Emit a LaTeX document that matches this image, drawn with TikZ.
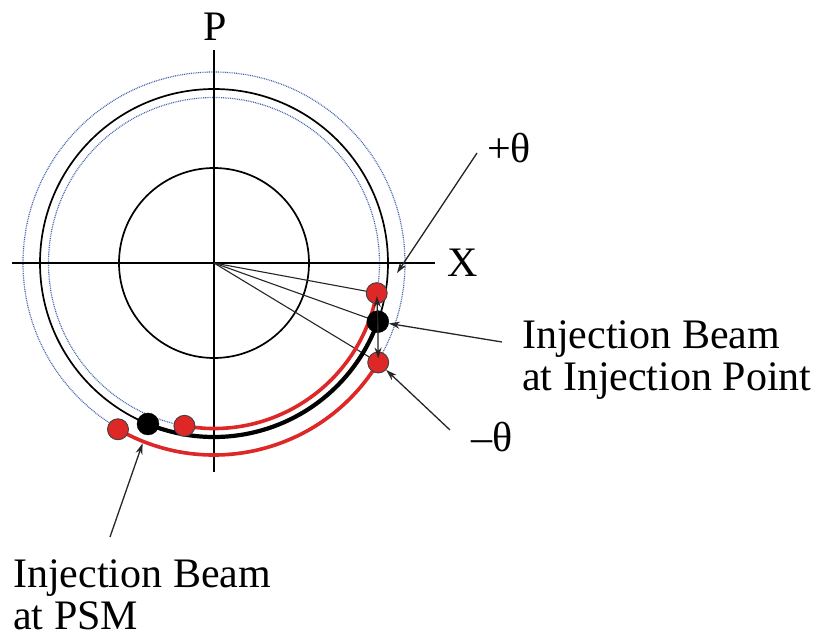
\documentclass[tikz,border=0pt]{standalone}
\usepackage{fontspec}
\setmainfont{Liberation Serif}
\usetikzlibrary{arrows.meta}
\definecolor{beamred}{RGB}{222,40,40}
\definecolor{dotblue}{RGB}{70,100,175}
\begin{document}
\begin{tikzpicture}[x=1pt,y=1pt,
  axisline/.style={line width=1.3pt,black},
  circline/.style={line width=1.7pt,black},
  rayline/.style={line width=1.1pt,black!85},
  bluedots/.style={line width=1.2pt,dotblue,dash pattern=on 0.9pt off 0.9pt},
  redarc/.style={line width=3.6pt,beamred},
  blackarc/.style={line width=4.2pt,black},
  reddot/.style={circle,minimum size=21pt,inner sep=0pt,fill=beamred,draw=black!75,line width=0.9pt},
  blackdot/.style={circle,minimum size=22pt,inner sep=0pt,fill=black,draw=black},
  arr/.style={line width=1.3pt,black!85,-{Stealth[length=11pt,width=7pt]}},
  lbl/.style={inner sep=0pt,font=\fontsize{42}{43}\selectfont},
  txt/.style={inner sep=0pt,align=left,font=\fontsize{42}{42}\selectfont}]
\useasboundingbox (-214,-374) rectangle (607,263);
% circles
\draw[bluedots] (0,0) circle[radius=191];
\draw[bluedots] (0,0) circle[radius=165.5];
\draw[circline] (0,0) circle[radius=174];
\draw[circline] (0,0) circle[radius=95];
% axes
\coordinate (O) at (0,0);
\coordinate (xl) at (-202,0);
\coordinate (xr) at (221,0);
\coordinate (pt) at (0,213);
\coordinate (pb) at (0,-209);
\draw[axisline] (xl) -- (xr);
\draw[axisline] (pb) -- (pt);
\node[lbl] (P) at (1,236) {P};
\node[lbl] (X) at (249,0) {X};
% dot positions
\coordinate (rtp) at (-10.5:165.5);
\coordinate (bdp) at (-19.7:174);
\coordinate (rbp) at (-31.2:192);
\coordinate (bpp) at (-112.3:174);
\coordinate (rip) at (-100.3:165.5);
\coordinate (rop) at (-120:192);
% rays
\draw[rayline] (O) -- (rtp);
\draw[rayline] (O) -- (bdp);
\draw[rayline] (O) -- (rbp);
% beam arcs
\draw[redarc] (rtp) arc[start angle=-10.5, end angle=-100.3, radius=165.5];
\draw[redarc] (rbp) arc[start angle=-31.2, end angle=-120, radius=192];
\draw[blackarc] (bdp) arc[start angle=-19.7, end angle=-112.3, radius=174];
% dots
\node[reddot] (rt) at (rtp) {};
\node[reddot] (rb) at (rbp) {};
\node[blackdot] (bd) at (bdp) {};
\node[reddot] (ri) at (rip) {};
\node[reddot] (ro) at (rop) {};
\node[blackdot] (bp) at (bpp) {};
% theta arrows between dots
\draw[arr,shorten >=3pt] (bd.center) -- (rt.center);
\draw[arr,shorten >=4pt] (bd.center) -- (rb.center);
% labels
\node[lbl] (plus) at (295,115) {+θ};
\node[lbl] (minus) at (278,-174) {–θ};
\node[txt,anchor=base west] (inj) at (308,-127) {Injection Beam\\at Injection Point};
\node[txt,anchor=base west] (psm) at (-201,-366) {Injection Beam\\at PSM};
% label arrows
\coordinate (plusstart) at (263,110);
\coordinate (plusend) at (183,-10);
\draw[arr] (plusstart) -- (plusend);
\coordinate (injstart) at (288,-79);
\draw[arr] (injstart) -- (bd);
\coordinate (minusstart) at (236,-167);
\draw[arr] (minusstart) -- (rb);
\coordinate (psmstart) at (-104,-274);
\coordinate (psmend) at (-111.6:194);
\draw[arr] (psmstart) -- (psmend);
\end{tikzpicture}
\end{document}
